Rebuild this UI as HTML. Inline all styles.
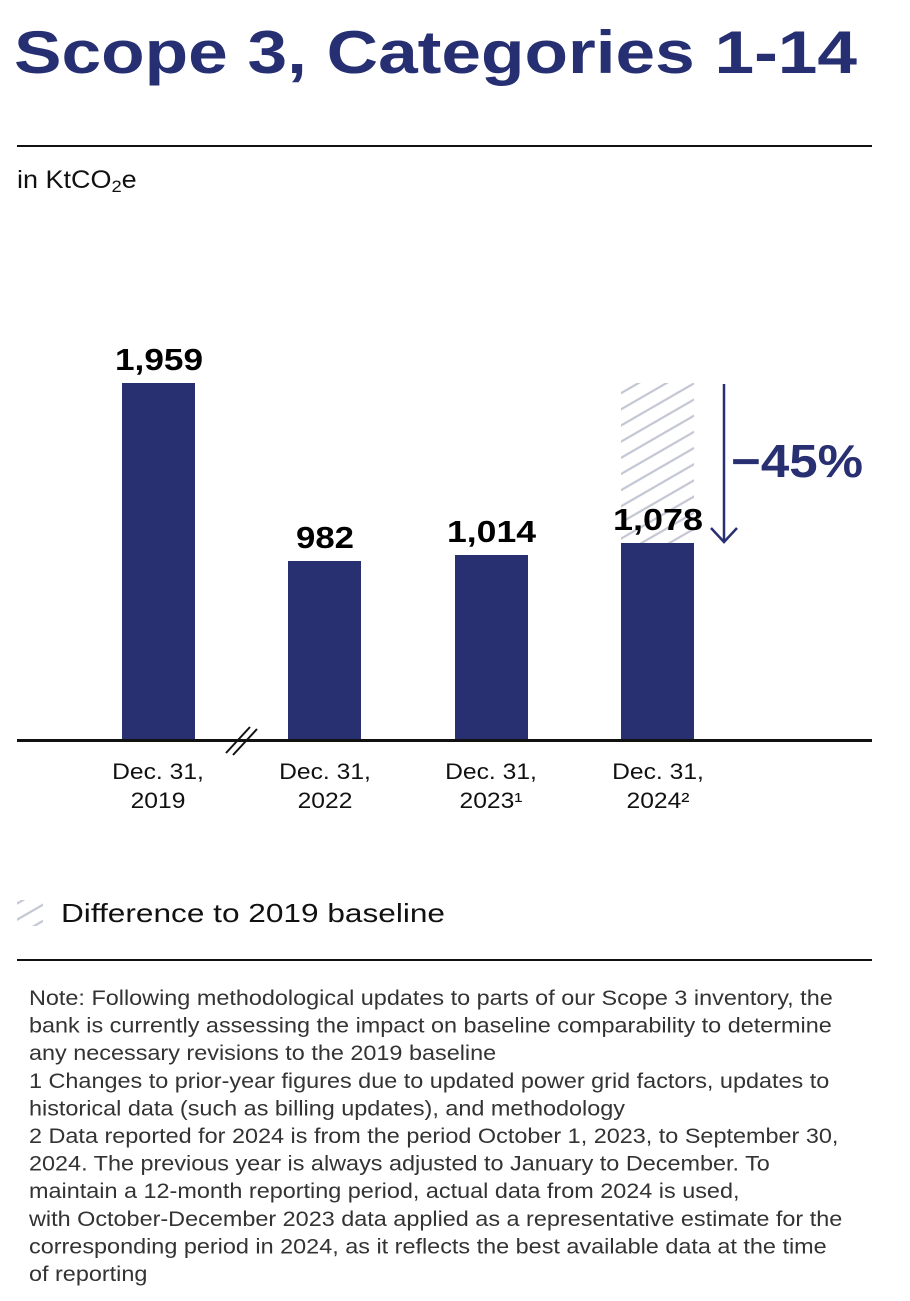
<!DOCTYPE html>
<html><head><meta charset="utf-8"><style>
body{margin:0;background:#fff;width:910px;height:1301px;overflow:hidden}
svg{display:block}
text{font-family:"Liberation Sans",sans-serif}
</style></head><body>
<svg width="910" height="1301" viewBox="0 0 910 1301">
<defs>
<pattern id="h" patternUnits="userSpaceOnUse" width="14" height="14" patternTransform="rotate(-30)">
<line x1="0" y1="7" x2="14" y2="7" stroke="#c3c7d3" stroke-width="2.2"/>
</pattern>
</defs>
<text x="14" y="73" font-size="60" font-weight="bold" fill="#262f72" textLength="843" lengthAdjust="spacingAndGlyphs">Scope 3, Categories 1-14</text>
<rect x="17" y="145" width="855" height="2" fill="#111"/>
<text x="17" y="188" font-size="25" fill="#111" transform="translate(17,0) scale(1.08,1) translate(-17,0)">in KtCO<tspan font-size="17" dy="4">2</tspan><tspan dy="-4">e</tspan></text>
<rect x="621" y="383" width="73" height="160" fill="url(#h)"/>
<rect x="122" y="383" width="73" height="357" fill="#293072"/>
<rect x="288" y="561" width="73" height="179" fill="#293072"/>
<rect x="455" y="555" width="73" height="185" fill="#293072"/>
<rect x="621" y="543" width="73" height="197" fill="#293072"/>
<rect x="17" y="739" width="855" height="3" fill="#111"/>
<line x1="226" y1="753" x2="250" y2="727" stroke="#111" stroke-width="2"/>
<line x1="233" y1="755" x2="257" y2="729" stroke="#111" stroke-width="2"/>
<g font-size="31" font-weight="bold" fill="#000">
<text x="115" y="370" textLength="88" lengthAdjust="spacingAndGlyphs">1,959</text>
<text x="296" y="548" textLength="58" lengthAdjust="spacingAndGlyphs">982</text>
<text x="447" y="542" textLength="89" lengthAdjust="spacingAndGlyphs">1,014</text>
<text x="613" y="530" textLength="90" lengthAdjust="spacingAndGlyphs">1,078</text>
</g>
<line x1="724" y1="384" x2="724" y2="542" stroke="#293072" stroke-width="2.5"/>
<polyline points="711,528 724,542 737,528" fill="none" stroke="#293072" stroke-width="2.5"/>
<text x="731" y="477" font-size="46" font-weight="bold" fill="#293072" textLength="132" lengthAdjust="spacingAndGlyphs">−45%</text>
<g font-size="22" fill="#111" text-anchor="middle">
<g transform="translate(158,0) scale(1.12,1)"><text x="0" y="779">Dec. 31,</text><text x="0" y="808">2019</text></g>
<g transform="translate(325,0) scale(1.12,1)"><text x="0" y="779">Dec. 31,</text><text x="0" y="808">2022</text></g>
<g transform="translate(491,0) scale(1.12,1)"><text x="0" y="779">Dec. 31,</text><text x="0" y="808">2023¹</text></g>
<g transform="translate(658,0) scale(1.12,1)"><text x="0" y="779">Dec. 31,</text><text x="0" y="808">2024²</text></g>
</g>
<rect x="17" y="900" width="26" height="26" fill="url(#h)"/>
<text x="61" y="922" font-size="26" fill="#111" textLength="384" lengthAdjust="spacingAndGlyphs">Difference to 2019 baseline</text>
<rect x="17" y="959" width="855" height="2" fill="#111"/>
<g font-size="21" fill="#333" transform="translate(29,0) scale(1.115,1) translate(-29,0)">
<text x="29" y="1005">Note: Following methodological updates to parts of our Scope 3 inventory, the</text>
<text x="29" y="1032.6">bank is currently assessing the impact on baseline comparability to determine</text>
<text x="29" y="1060.2">any necessary revisions to the 2019 baseline</text>
<text x="29" y="1087.8">1 Changes to prior-year figures due to updated power grid factors, updates to</text>
<text x="29" y="1115.4">historical data (such as billing updates), and methodology</text>
<text x="29" y="1143">2 Data reported for 2024 is from the period October 1, 2023, to September 30,</text>
<text x="29" y="1170.6">2024. The previous year is always adjusted to January to December. To</text>
<text x="29" y="1198.2">maintain a 12-month reporting period, actual data from 2024 is used,</text>
<text x="29" y="1225.8">with October-December 2023 data applied as a representative estimate for the</text>
<text x="29" y="1253.4">corresponding period in 2024, as it reflects the best available data at the time</text>
<text x="29" y="1281">of reporting</text>
</g>
</svg>
</body></html>
